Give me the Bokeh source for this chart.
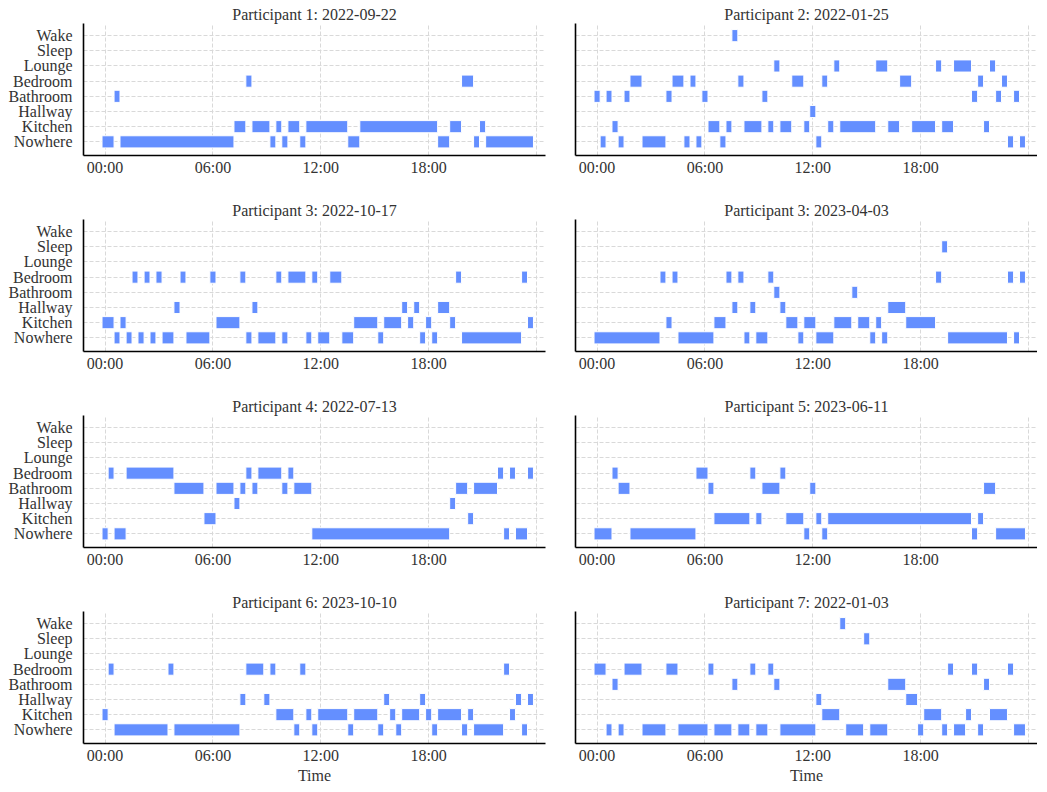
from bokeh.plotting import figure
from bokeh.layouts import gridplot
from bokeh.models import Range1d, FixedTicker, ColumnDataSource
from bokeh.embed import file_html
from bokeh.resources import INLINE

LOCATIONS = ["Nowhere", "Kitchen", "Hallway", "Bathroom", "Bedroom", "Lounge", "Sleep", "Wake"]
X_TICKS = [0, 6, 12, 18]
X_TICK_LABELS = ["00:00", "06:00", "12:00", "18:00"]
GRID_HOURS = [0, 6, 12, 18, 24]

TITLES = [
    "Participant 1: 2022-09-22", "Participant 2: 2022-01-25",
    "Participant 3: 2022-10-17", "Participant 3: 2023-04-03",
    "Participant 4: 2022-07-13", "Participant 5: 2023-06-11",
    "Participant 6: 2023-10-10", "Participant 7: 2022-01-03",
]

# (start hour, end hour) intervals per location
P1 = {
    "Nowhere": [(-0.17, 0.5), (0.83, 7.17), (9.17, 9.5), (9.83, 10.17), (10.83, 11.17), (13.5, 14.17),
                (18.5, 19.17), (20.5, 20.83), (21.17, 23.83)],
    "Kitchen": [(7.17, 7.83), (8.17, 9.17), (9.5, 9.83), (10.17, 10.83), (11.17, 13.5), (14.17, 18.5),
                (19.17, 19.83), (20.83, 21.17)],
    "Bathroom": [(0.5, 0.83)],
    "Bedroom": [(7.83, 8.17), (19.83, 20.5)],
}
P2 = {
    "Nowhere": [(0.17, 0.5), (1.17, 1.5), (2.5, 3.83), (4.83, 5.17), (5.5, 5.83), (6.83, 7.17),
                (12.17, 12.5), (22.83, 23.17), (23.5, 23.83)],
    "Kitchen": [(0.83, 1.17), (6.17, 6.83), (7.17, 7.5), (8.17, 9.17), (9.5, 9.83), (10.17, 10.83),
                (11.5, 11.83), (12.83, 13.17), (13.5, 15.5), (16.17, 16.83), (17.5, 18.83), (19.17, 19.83),
                (21.5, 21.83)],
    "Hallway": [(11.83, 12.17)],
    "Bathroom": [(-0.17, 0.17), (0.5, 0.83), (1.5, 1.83), (3.83, 4.17), (5.83, 6.17), (9.17, 9.5),
                 (20.83, 21.17), (22.17, 22.5), (23.17, 23.5)],
    "Bedroom": [(1.83, 2.5), (4.17, 4.83), (5.17, 5.5), (7.83, 8.17), (10.83, 11.5), (12.5, 12.83),
                (16.83, 17.5), (21.17, 21.5), (22.5, 22.83)],
    "Lounge": [(9.83, 10.17), (13.17, 13.5), (15.5, 16.17), (18.83, 19.17), (19.83, 20.83), (21.83, 22.17)],
    "Wake": [(7.5, 7.83)],
}
P3 = {
    "Nowhere": [(0.5, 0.83), (1.17, 1.5), (1.83, 2.17), (2.5, 2.83), (3.17, 3.83), (4.5, 5.83), (7.83, 8.17),
                (8.5, 9.5), (9.83, 10.17), (11.17, 11.5), (11.83, 12.5), (13.17, 13.83), (15.17, 15.5),
                (17.5, 17.83), (18.17, 18.5), (19.83, 23.17)],
    "Kitchen": [(-0.17, 0.5), (0.83, 1.17), (6.17, 7.5), (13.83, 15.17), (15.5, 16.5), (16.83, 17.17),
                (17.83, 18.17), (19.17, 19.5), (23.5, 23.83)],
    "Hallway": [(3.83, 4.17), (8.17, 8.5), (16.5, 16.83), (17.17, 17.5), (18.5, 19.17)],
    "Bedroom": [(1.5, 1.83), (2.17, 2.5), (2.83, 3.17), (4.17, 4.5), (5.83, 6.17), (7.5, 7.83), (9.5, 9.83),
                (10.17, 11.17), (11.5, 11.83), (12.5, 13.17), (19.5, 19.83), (23.17, 23.5)],
}
P4 = {
    "Nowhere": [(-0.17, 3.5), (4.5, 6.5), (8.17, 8.5), (8.83, 9.5), (11.17, 11.5), (12.17, 13.17),
                (15.17, 15.5), (15.83, 16.17), (19.5, 22.83), (23.17, 23.5)],
    "Kitchen": [(3.83, 4.17), (6.5, 7.17), (10.5, 11.17), (11.5, 12.17), (13.17, 14.17), (14.5, 15.17),
                (15.5, 15.83), (17.17, 18.83)],
    "Hallway": [(7.5, 7.83), (8.5, 8.83), (10.17, 10.5), (16.17, 17.17)],
    "Bathroom": [(9.83, 10.17), (14.17, 14.5)],
    "Bedroom": [(3.5, 3.83), (4.17, 4.5), (7.17, 7.5), (7.83, 8.17), (9.5, 9.83), (18.83, 19.17),
                (22.83, 23.17), (23.5, 23.83)],
    "Sleep": [(19.17, 19.5)],
}
P5 = {
    "Nowhere": [(-0.17, 0.17), (0.5, 1.17), (11.5, 19.17), (22.17, 22.5), (22.83, 23.5)],
    "Kitchen": [(5.5, 6.17), (20.17, 20.5)],
    "Hallway": [(7.17, 7.5), (19.17, 19.5)],
    "Bathroom": [(3.83, 5.5), (6.17, 7.17), (7.5, 7.83), (8.17, 8.5), (9.83, 10.17), (10.5, 11.5),
                 (19.5, 20.17), (20.5, 21.83)],
    "Bedroom": [(0.17, 0.5), (1.17, 3.83), (7.83, 8.17), (8.5, 9.83), (10.17, 10.5), (21.83, 22.17),
                (22.5, 22.83), (23.5, 23.83)],
}
P6 = {
    "Nowhere": [(-0.17, 0.83), (1.83, 5.5), (11.5, 11.83), (12.5, 12.83), (20.83, 21.17), (22.17, 23.83)],
    "Kitchen": [(6.5, 8.5), (8.83, 9.17), (10.5, 11.5), (12.17, 12.5), (12.83, 20.83), (21.17, 21.5)],
    "Bathroom": [(1.17, 1.83), (6.17, 6.5), (9.17, 10.17), (11.83, 12.17), (21.5, 22.17)],
    "Bedroom": [(0.83, 1.17), (5.5, 6.17), (8.5, 8.83), (10.17, 10.5)],
}
P7 = {
    "Nowhere": [(0.5, 3.5), (3.83, 7.5), (10.5, 10.83), (11.5, 11.83), (13.5, 13.83), (15.17, 15.5),
                (16.17, 16.5), (18.17, 18.5), (19.83, 20.17), (20.5, 22.17), (23.17, 23.5)],
    "Kitchen": [(-0.17, 0.17), (9.5, 10.5), (11.17, 11.5), (11.83, 13.5), (13.83, 15.17), (15.83, 16.17),
                (16.5, 17.5), (17.83, 18.17), (18.5, 19.83), (20.17, 20.5), (22.5, 22.83)],
    "Hallway": [(7.5, 7.83), (8.83, 9.17), (15.5, 15.83), (17.5, 17.83), (22.83, 23.17), (23.5, 23.83)],
    "Bedroom": [(0.17, 0.5), (3.5, 3.83), (7.83, 8.83), (9.17, 9.5), (10.83, 11.17), (22.17, 22.5)],
}
P8 = {
    "Nowhere": [(0.5, 0.83), (1.17, 1.5), (2.5, 3.83), (4.5, 6.17), (6.5, 7.5), (7.83, 8.5), (8.83, 9.5),
                (10.17, 12.17), (13.83, 14.83), (15.17, 16.17), (17.83, 18.17), (19.17, 19.5), (19.83, 20.5),
                (21.17, 21.5), (23.17, 23.83)],
    "Kitchen": [(12.5, 13.5), (18.17, 19.17), (20.5, 20.83), (21.83, 22.83)],
    "Hallway": [(12.17, 12.5), (17.17, 17.83)],
    "Bathroom": [(0.83, 1.17), (7.5, 7.83), (9.83, 10.17), (16.17, 17.17), (21.5, 21.83)],
    "Bedroom": [(-0.17, 0.5), (1.5, 2.5), (3.83, 4.5), (6.17, 6.5), (8.5, 8.83), (9.5, 9.83), (19.5, 19.83),
                (20.83, 21.17), (22.83, 23.17)],
    "Sleep": [(14.83, 15.17)],
    "Wake": [(13.5, 13.83)],
}
PANELS = [P1, P2, P3, P4, P5, P6, P7, P8]

FONT = "Liberation Serif"
TEXT = "#333333"
BAR = "#648FFF"
GRID = "#d9d9d9"


def make_panel(i, data, title):
    left_col = (i % 2 == 0)
    bottom_row = (i >= 6)
    p = figure(
        frame_width=462, frame_height=132,
        x_range=Range1d(-1.2, 24.5), y_range=Range1d(-0.9, 7.8),
        output_backend="svg", toolbar_location=None, title=title,
        min_border_left=83 if left_col else 17,
        min_border_right=13 if left_col else 0,
        min_border_top=23,
        min_border_bottom=37 if bottom_row else 41,
        background_fill_color="white", border_fill_color="white",
    )
    p.outline_line_color = None
    p.title.text_font = FONT
    p.title.text_font_size = "16px"
    p.title.text_font_style = "normal"
    p.title.text_color = TEXT
    p.title.align = "center"
    p.title.standoff = 2

    ys, lefts, rights = [], [], []
    for loc, spans in data.items():
        for s, e in spans:
            ys.append(LOCATIONS.index(loc))
            lefts.append(s)
            rights.append(e)
    src = ColumnDataSource(dict(y=ys, left=lefts, right=rights))
    p.hbar(y="y", left="left", right="right", height=0.8, source=src,
           fill_color=BAR, line_color="white", line_width=1)

    p.xaxis.ticker = FixedTicker(ticks=X_TICKS)
    p.xaxis.major_label_overrides = {t: l for t, l in zip(X_TICKS, X_TICK_LABELS)}
    p.yaxis.ticker = FixedTicker(ticks=list(range(len(LOCATIONS))))

    for ax in p.xaxis + p.yaxis:
        ax.axis_line_color = "black"
        ax.axis_line_width = 1.6
        ax.major_tick_line_color = None
        ax.minor_tick_line_color = None
        ax.major_tick_out = 0
        ax.major_tick_in = 0
        ax.minor_tick_out = 0
        ax.minor_tick_in = 0
        ax.major_label_text_font = FONT
        ax.major_label_text_color = TEXT

    if left_col:
        p.yaxis.major_label_overrides = {k: n for k, n in enumerate(LOCATIONS)}
        p.yaxis.major_label_text_font_size = "16px"
        p.yaxis.major_label_standoff = 11
    else:
        p.yaxis.major_label_overrides = {k: "" for k in range(len(LOCATIONS))}
        p.yaxis.major_label_text_font_size = "0px"
        p.yaxis.major_label_standoff = 0

    p.xaxis.major_label_text_font_size = "16px"
    p.xaxis.major_label_standoff = 3
    if bottom_row:
        p.xaxis.axis_label = "Time"
        p.xaxis.axis_label_text_font = FONT
        p.xaxis.axis_label_text_font_size = "16px"
        p.xaxis.axis_label_text_font_style = "normal"
        p.xaxis.axis_label_text_color = TEXT
        p.xaxis.axis_label_standoff = 0

    p.xgrid.ticker = FixedTicker(ticks=GRID_HOURS)
    p.ygrid.ticker = FixedTicker(ticks=list(range(len(LOCATIONS))))
    for g in (p.xgrid, p.ygrid):
        g.grid_line_color = GRID
        g.grid_line_dash = "4 2"
        g.grid_line_width = 1
    return p


figs = [make_panel(i, d, t) for i, (d, t) in enumerate(zip(PANELS, TITLES))]
grid = gridplot([[figs[0], figs[1]], [figs[2], figs[3]], [figs[4], figs[5]], [figs[6], figs[7]]],
                toolbar_location=None)

open("out.html", "w").write(file_html(grid, INLINE))
